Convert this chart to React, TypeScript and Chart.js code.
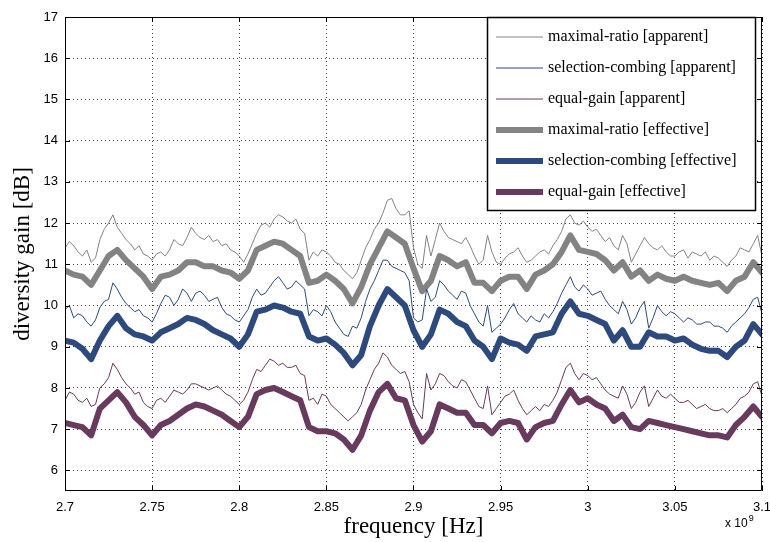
import React, { useEffect, useRef } from "react";
import { Chart, registerables } from "chart.js";

Chart.register(...registerables);

// frequency axis, in units of 10^9 Hz (coarse grid for effective curves)
const FREQ_GHZ = [
  2.700, 2.705, 2.710, 2.715, 2.720, 2.725, 2.730, 2.735, 2.740, 2.745,
  2.750, 2.755, 2.760, 2.765, 2.770, 2.775, 2.780, 2.785, 2.790, 2.795,
  2.800, 2.805, 2.810, 2.815, 2.820, 2.825, 2.830, 2.835, 2.840, 2.845,
  2.850, 2.855, 2.860, 2.865, 2.870, 2.875, 2.880, 2.885, 2.890, 2.895,
  2.900, 2.905, 2.910, 2.915, 2.920, 2.925, 2.930, 2.935, 2.940, 2.945,
  2.950, 2.955, 2.960, 2.965, 2.970, 2.975, 2.980, 2.985, 2.990, 2.995,
  3.000, 3.005, 3.010, 3.015, 3.020, 3.025, 3.030, 3.035, 3.040, 3.045,
  3.050, 3.055, 3.060, 3.065, 3.070, 3.075, 3.080, 3.085, 3.090, 3.095,
  3.100,
];

// finer grid for the noisy apparent curves
const FREQ_FINE_GHZ = [
  2.7000, 2.7025, 2.7050, 2.7075, 2.7100, 2.7125, 2.7150, 2.7175, 2.7200, 2.7225,
  2.7250, 2.7275, 2.7300, 2.7325, 2.7350, 2.7375, 2.7400, 2.7425, 2.7450, 2.7475,
  2.7500, 2.7525, 2.7550, 2.7575, 2.7600, 2.7625, 2.7650, 2.7675, 2.7700, 2.7725,
  2.7750, 2.7775, 2.7800, 2.7825, 2.7850, 2.7875, 2.7900, 2.7925, 2.7950, 2.7975,
  2.8000, 2.8025, 2.8050, 2.8075, 2.8100, 2.8125, 2.8150, 2.8175, 2.8200, 2.8225,
  2.8250, 2.8275, 2.8300, 2.8325, 2.8350, 2.8375, 2.8400, 2.8425, 2.8450, 2.8475,
  2.8500, 2.8525, 2.8550, 2.8575, 2.8600, 2.8625, 2.8650, 2.8675, 2.8700, 2.8725,
  2.8750, 2.8775, 2.8800, 2.8825, 2.8850, 2.8875, 2.8900, 2.8925, 2.8950, 2.8975,
  2.9000, 2.9025, 2.9050, 2.9075, 2.9100, 2.9125, 2.9150, 2.9175, 2.9200, 2.9225,
  2.9250, 2.9275, 2.9300, 2.9325, 2.9350, 2.9375, 2.9400, 2.9425, 2.9450, 2.9475,
  2.9500, 2.9525, 2.9550, 2.9575, 2.9600, 2.9625, 2.9650, 2.9675, 2.9700, 2.9725,
  2.9750, 2.9775, 2.9800, 2.9825, 2.9850, 2.9875, 2.9900, 2.9925, 2.9950, 2.9975,
  3.0000, 3.0025, 3.0050, 3.0075, 3.0100, 3.0125, 3.0150, 3.0175, 3.0200, 3.0225,
  3.0250, 3.0275, 3.0300, 3.0325, 3.0350, 3.0375, 3.0400, 3.0425, 3.0450, 3.0475,
  3.0500, 3.0525, 3.0550, 3.0575, 3.0600, 3.0625, 3.0650, 3.0675, 3.0700, 3.0725,
  3.0750, 3.0775, 3.0800, 3.0825, 3.0850, 3.0875, 3.0900, 3.0925, 3.0950, 3.0975,
  3.1000,
];

const MR_APPARENT = [
  11.4, 11.55, 11.45, 11.3, 11.2, 11.35, 11.05, 11.15, 11.6, 11.85,
  12.0, 12.2, 11.9, 11.75, 11.6, 11.5, 11.35, 11.45, 11.25, 11.2,
  11.1, 11.25, 11.3, 11.2, 11.35, 11.6, 11.5, 11.45, 11.65, 11.9,
  11.75, 11.65, 11.6, 11.7, 11.55, 11.6, 11.45, 11.5, 11.35, 11.3,
  11.2, 11.05, 11.25, 11.5, 11.75, 11.95, 12.0, 11.9, 12.1, 12.2,
  12.15, 12.05, 12.0, 12.1, 11.85, 11.75, 11.1, 11.3, 11.2, 11.35,
  11.3, 11.2, 11.05, 11.0, 10.85, 10.75, 10.65, 10.8, 11.1, 11.4,
  11.6, 11.85, 12.0, 12.25, 12.55, 12.6, 12.35, 12.2, 12.2, 12.3,
  11.4, 11.0, 10.9, 11.7, 11.2, 11.6, 12.0, 11.8, 11.65, 11.6,
  11.55, 11.5, 11.65, 11.45, 11.2, 11.0, 11.1, 11.7, 11.3, 11.05,
  11.0, 11.15, 11.25, 11.3, 11.4, 11.2, 11.05, 11.1, 11.2, 11.3,
  11.35, 11.25, 11.45, 11.6, 11.8, 12.1, 12.2, 12.0, 11.95, 12.05,
  11.9, 11.8, 11.85, 11.7, 11.55, 11.65, 11.45, 11.35, 11.7, 11.5,
  11.05, 11.25, 11.45, 11.65, 11.5, 11.4, 11.35, 11.45, 11.3, 11.2,
  11.2, 11.3, 11.35, 11.15, 11.3, 11.25, 11.2, 11.3, 11.1, 11.2,
  11.15, 11.05, 10.95, 11.1, 11.2, 11.4, 11.35, 11.3, 11.5, 11.7,
  11.2,
];

const SC_APPARENT = [
  9.9, 10.0, 9.7, 9.8, 9.75, 9.6, 9.5, 9.65, 9.95, 10.1,
  10.15, 10.55, 10.4, 10.2, 10.05, 9.95, 9.85, 9.9, 9.75, 9.7,
  9.6, 9.8, 10.05, 10.25, 10.2, 10.0, 10.15, 10.4, 10.3, 10.1,
  10.3, 10.35, 10.25, 10.1, 10.15, 10.2, 9.95, 9.8, 9.75, 9.65,
  9.6, 9.75, 9.9, 10.2, 10.4, 10.25, 10.3, 10.45, 10.6, 10.7,
  10.55, 10.4, 10.45, 10.6, 10.5, 10.4, 9.75, 9.9, 9.85, 9.75,
  10.0, 9.85, 9.6, 9.45, 9.3, 9.25, 9.5, 9.45, 9.7, 10.1,
  10.4, 10.6, 10.85, 11.1, 11.1, 10.95, 10.9, 10.85, 10.8, 10.6,
  9.7, 9.6, 9.65, 10.4, 10.1, 10.2, 10.6, 10.5, 10.35, 10.25,
  10.15, 10.35, 10.3, 10.0, 9.8, 9.6, 9.5, 10.0, 9.35, 9.45,
  9.55, 9.7, 9.9, 10.05, 9.8, 9.7, 9.6, 9.75, 9.65, 9.6,
  9.8, 9.7, 9.85, 10.05, 10.3, 10.5, 10.7, 10.45, 10.35, 10.5,
  10.4, 10.25, 10.3, 10.35, 10.15, 10.0, 9.9, 9.8, 10.1, 9.9,
  9.55, 9.7, 9.95, 10.1, 9.45, 9.7, 10.0, 9.85, 9.75, 9.85,
  9.8, 9.7, 9.6, 9.7, 9.65, 9.55, 9.55, 9.6, 9.6, 9.5,
  9.5, 9.45, 9.35, 9.5, 9.6, 9.7, 9.8, 9.95, 10.15, 10.2,
  9.8,
];

const EG_APPARENT = [
  7.7, 7.9, 7.85, 7.7, 7.65, 7.75, 7.55, 7.6, 8.0, 8.1,
  8.25, 8.6, 8.45, 8.25, 8.1, 8.0, 7.85, 7.9, 7.65, 7.55,
  7.5, 7.7, 7.75, 7.65, 7.8, 7.95, 7.9, 7.85, 7.95, 8.1,
  8.1, 8.05, 8.0, 7.95, 8.0, 8.05, 7.95, 7.85, 7.8, 7.7,
  7.6, 7.7, 7.9, 8.2, 8.45, 8.4, 8.55, 8.7, 8.65, 8.55,
  8.6, 8.5, 8.5, 8.55, 8.35, 8.3, 7.7, 7.75, 7.6, 7.85,
  7.8, 7.6, 7.5, 7.4, 7.3, 7.2, 7.3, 7.4, 7.6, 7.95,
  8.2, 8.45, 8.6, 8.85, 8.75, 8.55, 8.45, 8.35, 8.4, 8.15,
  7.6, 7.4, 7.25, 8.35, 7.95, 8.1, 8.35, 8.3, 8.15, 8.05,
  8.0, 8.2, 8.15, 7.95, 7.75, 7.55, 7.5, 8.05, 7.35, 7.5,
  7.65, 7.8, 7.85, 7.95, 7.7, 7.5, 7.35, 7.45, 7.55, 7.45,
  7.6, 7.55, 7.7, 7.9, 8.2, 8.5, 8.6, 8.35, 8.2, 8.35,
  8.3, 8.2, 8.25, 8.1, 7.95, 7.85, 7.8, 7.75, 8.05, 7.85,
  7.5, 7.65, 7.9, 8.05, 7.55, 7.75, 7.95, 7.8, 7.75, 7.85,
  7.75, 7.65, 7.65, 7.7, 7.6, 7.5, 7.55, 7.6, 7.5, 7.45,
  7.45, 7.5, 7.4, 7.5, 7.6, 7.75, 7.8, 7.9, 8.1, 8.15,
  7.8,
];

const MR_EFFECTIVE = [
  10.85, 10.75, 10.7, 10.5, 10.85, 11.2, 11.35, 11.1, 10.9, 10.7,
  10.4, 10.7, 10.75, 10.85, 11.05, 11.05, 10.95, 10.95, 10.85, 10.8,
  10.65, 10.85, 11.35, 11.45, 11.55, 11.5, 11.35, 11.2, 10.55, 10.6,
  10.75, 10.6, 10.4, 10.05, 10.45, 11.0, 11.4, 11.8, 11.65, 11.5,
  10.9, 10.35, 10.6, 11.2, 11.1, 10.95, 11.05, 10.55, 10.55, 10.35,
  10.6, 10.7, 10.7, 10.4, 10.75, 10.85, 11.0, 11.3, 11.7, 11.35,
  11.3, 11.25, 11.1, 10.85, 11.05, 10.7, 10.85, 10.6, 10.75, 10.65,
  10.6, 10.7, 10.6, 10.55, 10.5, 10.55, 10.35, 10.6, 10.7, 11.05,
  10.8,
];

const SC_EFFECTIVE = [
  9.15, 9.1, 8.95, 8.7, 9.15, 9.5, 9.75, 9.45, 9.3, 9.25,
  9.15, 9.35, 9.45, 9.55, 9.7, 9.65, 9.55, 9.4, 9.3, 9.2,
  9.0, 9.3, 9.85, 9.9, 10.0, 9.95, 9.85, 9.8, 9.25, 9.15,
  9.2, 9.05, 8.85, 8.55, 8.8, 9.5, 10.0, 10.4, 10.2, 10.0,
  9.4, 9.0, 9.3, 9.9, 9.8, 9.6, 9.5, 9.15, 9.0, 8.7,
  9.2, 9.1, 9.05, 8.9, 9.25, 9.3, 9.35, 9.8, 10.1, 9.8,
  9.75, 9.65, 9.55, 9.15, 9.4, 9.0, 9.0, 9.35, 9.25, 9.25,
  9.15, 9.2, 9.05, 8.95, 8.9, 8.9, 8.75, 9.0, 9.15, 9.55,
  9.3,
];

const EG_EFFECTIVE = [
  7.15, 7.1, 7.05, 6.85, 7.5, 7.7, 7.9, 7.65, 7.3, 7.1,
  6.85, 7.1, 7.2, 7.35, 7.5, 7.6, 7.55, 7.45, 7.35, 7.2,
  7.05, 7.3, 7.85, 7.95, 8.0, 7.9, 7.8, 7.7, 7.05, 6.95,
  6.95, 6.9, 6.75, 6.5, 6.85, 7.45, 7.9, 8.1, 7.75, 7.7,
  7.1, 6.7, 6.95, 7.6, 7.5, 7.4, 7.4, 7.1, 7.1, 6.9,
  7.15, 7.2, 7.15, 6.75, 7.05, 7.15, 7.2, 7.6, 7.95, 7.65,
  7.75, 7.6, 7.5, 7.2, 7.35, 7.05, 7.0, 7.2, 7.15, 7.1,
  7.05, 7.0, 6.95, 6.9, 6.85, 6.85, 6.8, 7.1, 7.3, 7.55,
  7.3,
];

const SERIES_LABELS = [
  "maximal-ratio [apparent]",
  "selection-combing [apparent]",
  "equal-gain [apparent]",
  "maximal-ratio [effective]",
  "selection-combing [effective]",
  "equal-gain [effective]",
];

const X_TICKS = [2.7, 2.75, 2.8, 2.85, 2.9, 2.95, 3.0, 3.05, 3.1];
const Y_TICKS = [6, 7, 8, 9, 10, 11, 12, 13, 14, 15, 16, 17];

const X_TITLE = "frequency [Hz]";
const Y_TITLE = "diversity gain [dB]";

const GREY = "#838383";
const BLUE = "#2e4a7d";
const PURPLE = "#683a5d";

const SERIF = "'Liberation Serif', 'DejaVu Serif', serif";
const SANS = "'Liberation Sans', Arial, sans-serif";

const framePlugin = {
  id: "matlabFrame",
  afterDatasetsDraw(chart: any) {
    const { ctx, chartArea, scales } = chart;
    const { left, right, top, bottom } = chartArea;
    ctx.save();
    ctx.strokeStyle = "#000";
    ctx.lineWidth = 1;
    ctx.beginPath();
    ctx.rect(left + 0.5, top + 0.5, right - left - 1, bottom - top - 1);
    ctx.stroke();
    const tl = 5;
    ctx.beginPath();
    for (const v of Y_TICKS) {
      const y = Math.round(scales.y.getPixelForValue(v)) + 0.5;
      ctx.moveTo(left, y);
      ctx.lineTo(left + tl, y);
      ctx.moveTo(right, y);
      ctx.lineTo(right - tl, y);
    }
    for (const v of X_TICKS) {
      const x = Math.round(scales.x.getPixelForValue(v)) + 0.5;
      ctx.moveTo(x, bottom);
      ctx.lineTo(x, bottom - tl);
      ctx.moveTo(x, top);
      ctx.lineTo(x, top + tl);
    }
    ctx.stroke();
    ctx.restore();
  },
  afterDraw(chart: any) {
    const { ctx, chartArea } = chart;
    ctx.save();
    // legend box
    const bx = chartArea.right - 275;
    const by = chartArea.top;
    const bw = 268;
    const bh = 193;
    ctx.fillStyle = "#fff";
    ctx.fillRect(bx, by, bw, bh);
    ctx.strokeStyle = "#000";
    ctx.lineWidth = 1.5;
    ctx.strokeRect(bx + 0.5, by + 0.5, bw, bh);
    chart.data.datasets.forEach((ds: any, i: number) => {
      const y = by + 20 + i * 31;
      ctx.strokeStyle = ds.borderColor;
      ctx.lineWidth = ds.borderWidth;
      ctx.lineCap = "butt";
      ctx.beginPath();
      ctx.moveTo(bx + 9, y);
      ctx.lineTo(bx + 56, y);
      ctx.stroke();
      ctx.fillStyle = "#000";
      ctx.font = `16px ${SERIF}`;
      ctx.textBaseline = "middle";
      ctx.textAlign = "left";
      ctx.fillText(ds.label, bx + 61, y);
    });
    // x 10^9 multiplier
    ctx.fillStyle = "#000";
    ctx.textBaseline = "alphabetic";
    ctx.textAlign = "left";
    ctx.font = `12px ${SANS}`;
    const mx = chartArea.right - 37;
    const my = chartArea.bottom + 36;
    ctx.fillText("x 10", mx, my);
    const w = ctx.measureText("x 10").width;
    ctx.font = `9px ${SANS}`;
    ctx.fillText("9", mx + w + 1, my - 6);
    ctx.restore();
  },
};

export default function App() {
  const ref = useRef<HTMLCanvasElement>(null);

  useEffect(() => {
    if (!ref.current) return;
    const pts = (xs: number[], vals: number[]) => xs.map((x, i) => ({ x, y: vals[i] }));
    const series = [
      { label: SERIES_LABELS[0], xs: FREQ_FINE_GHZ, data: MR_APPARENT, color: GREY, width: 1 },
      { label: SERIES_LABELS[1], xs: FREQ_FINE_GHZ, data: SC_APPARENT, color: BLUE, width: 1 },
      { label: SERIES_LABELS[2], xs: FREQ_FINE_GHZ, data: EG_APPARENT, color: PURPLE, width: 1 },
      { label: SERIES_LABELS[3], xs: FREQ_GHZ, data: MR_EFFECTIVE, color: GREY, width: 6 },
      { label: SERIES_LABELS[4], xs: FREQ_GHZ, data: SC_EFFECTIVE, color: BLUE, width: 6 },
      { label: SERIES_LABELS[5], xs: FREQ_GHZ, data: EG_EFFECTIVE, color: PURPLE, width: 6 },
    ];
    const chart = new Chart(ref.current, {
      type: "line",
      data: {
        datasets: series.map((s) => ({
          label: s.label,
          data: pts(s.xs, s.data),
          borderColor: s.color,
          backgroundColor: s.color,
          borderWidth: s.width,
          pointRadius: 0,
          tension: 0,
          fill: false,
          borderJoinStyle: "round",
          borderCapStyle: "round",
        })),
      },
      options: {
        animation: false,
        responsive: false,
        devicePixelRatio: 1,
        layout: { padding: { top: 17, right: 8, left: 0, bottom: 0 } },
        plugins: {
          legend: { display: false },
          tooltip: { enabled: false },
        },
        scales: {
          x: {
            type: "linear",
            min: 2.7,
            max: 3.1,
            afterBuildTicks: (s: any) => {
              s.ticks = X_TICKS.map((v) => ({ value: v }));
            },
            afterFit: (s: any) => {
              s.height = 51;
              s.paddingLeft = 0;
              s.paddingRight = 0;
            },
            ticks: {
              autoSkip: false,
              maxRotation: 0,
              padding: 9,
              color: "#000",
              font: { family: SANS, size: 13 },
              callback: (v: any) => String(Number(Number(v).toFixed(2))),
            },
            grid: {
              drawTicks: false,
              color: "rgba(0,0,0,0.75)",
              lineWidth: 1,
            },
            border: { display: false, dash: [1, 3] },
            title: {
              display: true,
              text: X_TITLE,
              color: "#000",
              font: { family: SERIF, size: 23 },
              padding: { top: 0, bottom: 1 },
            },
          },
          y: {
            type: "linear",
            min: 5.5,
            max: 17,
            afterBuildTicks: (s: any) => {
              s.ticks = Y_TICKS.map((v) => ({ value: v }));
            },
            afterFit: (s: any) => {
              s.width = 65;
              s.paddingTop = 0;
              s.paddingBottom = 0;
            },
            ticks: {
              padding: 7,
              color: "#000",
              font: { family: SANS, size: 13 },
            },
            grid: {
              drawTicks: false,
              color: "rgba(0,0,0,0.75)",
              lineWidth: 1,
            },
            border: { display: false, dash: [1, 3] },
            title: {
              display: true,
              text: Y_TITLE,
              color: "#000",
              font: { family: SERIF, size: 23 },
              padding: { top: 9, bottom: 0 },
            },
          },
        },
      },
      plugins: [framePlugin],
    });
    return () => chart.destroy();
  }, []);

  return (
    <div style={{ position: "fixed", left: 0, top: 0, width: 770, height: 542, background: "#fff" }}>
      <canvas ref={ref} width={770} height={542} style={{ display: "block" }} />
    </div>
  );
}
